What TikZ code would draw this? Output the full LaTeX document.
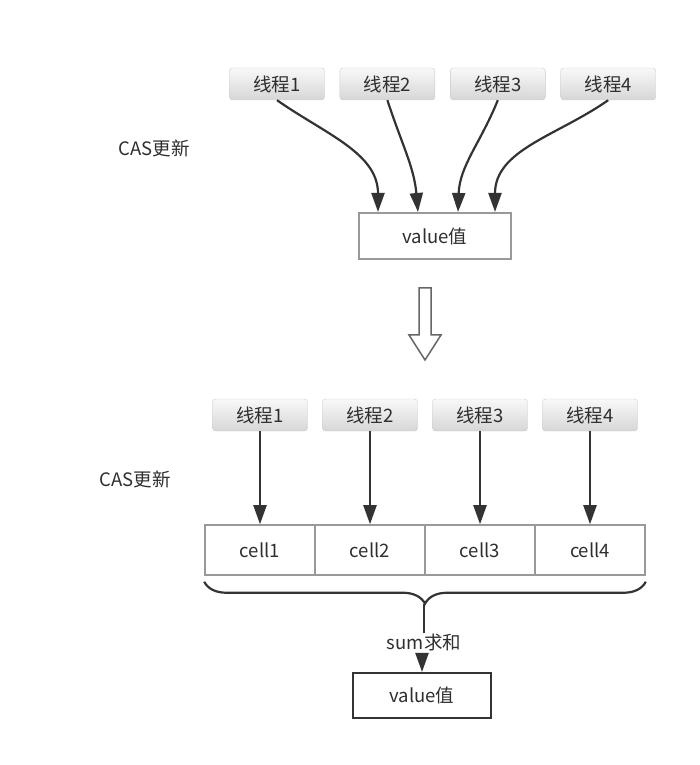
\documentclass[tikz,border=0pt]{standalone}
\usepackage{fontspec}
\setmainfont{Noto Sans CJK SC}
\usetikzlibrary{arrows.meta, positioning, calc, decorations.pathreplacing}
\definecolor{txtgray}{HTML}{2E2E2E}
\definecolor{linegray}{HTML}{333333}
\definecolor{boxgray}{HTML}{999999}

\begin{document}
\begin{tikzpicture}[x=1pt, y=1pt,
    thread/.style={rectangle, draw=gray!40, rounded corners=3pt, top color=gray!5, bottom color=gray!32, minimum width=95pt, minimum height=32pt, font=\fontsize{18.5}{21}\selectfont, text=txtgray},
    valbox/.style={rectangle, draw=boxgray, line width=2pt, minimum width=152pt, minimum height=46pt, font=\fontsize{18.5}{21}\selectfont, text=txtgray},
    sumbox/.style={rectangle, draw=linegray, line width=2pt, minimum width=138pt, minimum height=45pt, font=\fontsize{18.5}{21}\selectfont, text=txtgray},
    cell/.style={rectangle, draw=boxgray, line width=1.5pt, minimum width=110pt, minimum height=50pt, font=\fontsize{18.5}{21}\selectfont, text=txtgray},
    lbl/.style={font=\fontsize{18.5}{21}\selectfont, text=txtgray},
    arrow/.style={-{Triangle[length=19pt, width=13pt]}, line width=2.2pt, draw=linegray},
    brace/.style={decorate, decoration={brace, mirror, amplitude=22pt}, line width=2.2pt, draw=linegray},
    hollow/.style={draw=gray!80!black, line width=1.5pt, fill=white}
]
    \useasboundingbox (0,0) rectangle (700,765);

    % CAS on one value
    \node[thread] (ta1) at (277,681) {线程1};
    \node[thread, right=15pt of ta1] (ta2) {线程2};
    \node[thread, right=15pt of ta2] (ta3) {线程3};
    \node[thread, right=15pt of ta3] (ta4) {线程4};
    \node[lbl] (casA) at (154,617) {CAS更新};
    \node[valbox] (valA) at (435,529) {value值};

    \draw[arrow] (ta1.south) to[out=-35, in=90] ([xshift=-57pt]valA.north);
    \draw[arrow] (ta2.south) to[out=-72, in=95] ([xshift=-17pt]valA.north);
    \draw[arrow] (ta3.south) to[out=-112, in=88] ([xshift=23pt]valA.north);
    \draw[arrow] (ta4.south) to[out=-145, in=90] ([xshift=60pt]valA.north);

    \draw[hollow] (419,477) -- (431,477) -- (431,430) -- (441,430) -- (425,405) -- (409,430) -- (419,430) -- cycle;

    % CAS on cells
    \node[cell] (c1) at (260,215) {cell1};
    \node[cell, right=-1.5pt of c1] (c2) {cell2};
    \node[cell, right=-1.5pt of c2] (c3) {cell3};
    \node[cell, right=-1.5pt of c3] (c4) {cell4};
    \node[thread, above=93pt of c1] (tb1) {线程1};
    \node[thread, above=93pt of c2] (tb2) {线程2};
    \node[thread, above=93pt of c3] (tb3) {线程3};
    \node[thread, above=93pt of c4] (tb4) {线程4};
    \node[lbl] (casB) at (135,286) {CAS更新};

    \draw[arrow] (tb1) -- (c1);
    \draw[arrow] (tb2) -- (c2);
    \draw[arrow] (tb3) -- (c3);
    \draw[arrow] (tb4) -- (c4);

    \draw[brace] ([yshift=-6pt]c1.south west) -- ([yshift=-6pt]c4.south east);
    \coordinate (btip) at ($(c1.south west)!0.5!(c4.south east) + (-1,-28)$);
    \node[lbl, inner sep=1pt] (sum) at (424,122) {sum求和};
    \node[sumbox] (valB) at (422,69.5) {value值};

    \draw[line width=2.2pt, draw=linegray] (btip) -- (sum.north -| btip);
    \draw[arrow] (sum.south -| valB.north) -- (valB.north);
\end{tikzpicture}
\end{document}
